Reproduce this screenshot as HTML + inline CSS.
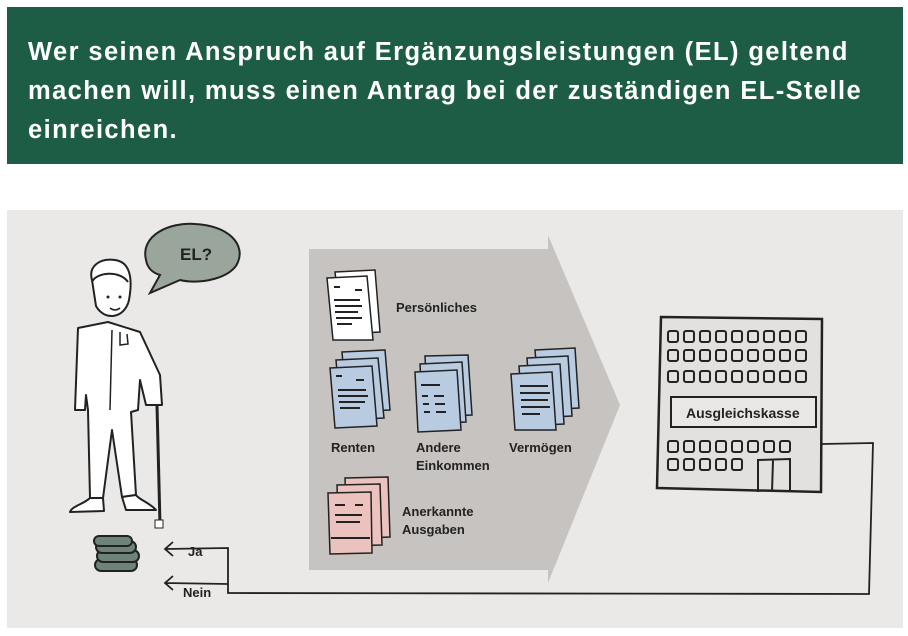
<!DOCTYPE html>
<html><head><meta charset="utf-8"><style>
body{margin:0;width:908px;height:636px;background:#fff;overflow:hidden;font-family:"Liberation Sans",sans-serif}
.h{position:absolute;left:7px;top:7px;width:896px;height:157px;background:#1d5d45;color:#fff;font-weight:bold;font-size:25.5px;letter-spacing:1.4px;line-height:39px;box-sizing:border-box;padding:26px 0 0 21px;white-space:nowrap}
svg{position:absolute;left:0;top:0}
</style></head><body>
<div class="h">Wer seinen Anspruch auf Ergänzungsleistungen (EL) geltend<br>machen will, muss einen Antrag bei der zuständigen EL-Stelle<br>einreichen.</div>
<svg width="908" height="636" font-family="Liberation Sans" font-weight="bold" font-size="13">
<rect x="7" y="210" width="896" height="418" fill="#eae9e7"/>
<polygon points="309,249 548,249 548,235 620,405 548,583 548,570 309,570" fill="#c7c3c0"/>
<path d="M146,260 C140,235 170,222 195,224 C230,226 245,245 238,262 C232,278 200,285 180,280 L150,293 L160,275 C150,272 147,266 146,260Z" fill="#9aa69c" stroke="#222" stroke-width="2"/>
<text x="180" y="260" font-size="17" fill="#222">EL?</text>
<g fill="#fff" stroke="#222" stroke-width="2" stroke-linejoin="round">
<path d="M92,280 C88,266 100,258 115,260 C130,262 133,278 129,300 C125,318 105,322 96,306Z"/>
<path d="M78,328 L108,322 L140,332 L160,375 L162,405 L146,405 L140,380 L138,410 L131,412 L136,495 L122,497 L112,430 L103,498 L90,498 L88,410 L86,395 L85,410 L75,410 Z"/>
<path d="M90,498 C84,504 72,506 70,512 L104,511 L103,498Z"/>
<path d="M122,497 L126,510 L156,510 C150,503 138,499 136,495Z"/>
</g>
<path d="M92,282 C96,272 120,270 128,282" fill="none" stroke="#222" stroke-width="2"/>
<path d="M112,330 L110,410 M120,332 L120,345 L128,344 L127,334" fill="none" stroke="#222" stroke-width="1.5"/>
<circle cx="108" cy="297" r="1.5" fill="#222"/><circle cx="120" cy="297" r="1.5" fill="#222"/>
<path d="M110,308 Q115,312 120,308" fill="none" stroke="#222" stroke-width="1.5"/>
<line x1="157" y1="405" x2="160" y2="525" stroke="#222" stroke-width="3"/>
<rect x="155" y="520" width="8" height="8" fill="#fff" stroke="#222"/>
<g fill="#6f8478" stroke="#222" stroke-width="2">
<rect x="95" y="559" width="42" height="12" rx="6"/><rect x="97" y="550" width="42" height="12" rx="6"/><rect x="96" y="541" width="40" height="12" rx="6"/><rect x="94" y="536" width="38" height="10" rx="5"/>
</g>
<path d="M228,570 L228,548 L165,549 M173,542 L165,549 L173,556 M228,584 L165,583 M173,576 L165,583 L173,590" fill="none" stroke="#222" stroke-width="1.8"/>
<path d="M822,444 L873,443 L869,594 L228,593 L228,570" fill="none" stroke="#222" stroke-width="1.8"/>
<text x="188" y="556" fill="#222">Ja</text>
<text x="183" y="597" fill="#222">Nein</text>
<g stroke="#222" stroke-width="1.5">
<path d="M335,272 L375,270 L380,332 L342,334Z" fill="#fff"/><path d="M327,278 L367,276 L373,340 L333,340Z" fill="#fff"/>
<g fill="#b9cbe0">
<path d="M342,352 L385,350 L390,410 L347,412Z"/><path d="M336,360 L378,358 L384,418 L341,420Z"/><path d="M330,368 L372,366 L377,426 L335,428Z"/>
<path d="M425,356 L468,355 L472,415 L428,417Z"/><path d="M420,364 L462,362 L466,422 L423,424Z"/><path d="M415,372 L457,370 L461,430 L418,432Z"/>
<path d="M535,350 L575,348 L579,408 L540,410Z"/><path d="M527,358 L568,356 L572,416 L531,418Z"/><path d="M519,366 L560,364 L564,424 L523,426Z"/><path d="M511,374 L552,372 L556,430 L515,430Z"/>
</g>
<g fill="#ebc2bd">
<path d="M345,478 L388,477 L390,537 L347,539Z"/><path d="M337,485 L380,484 L382,545 L339,546Z"/><path d="M328,493 L371,492 L372,553 L330,554Z"/>
</g>
</g>
<g stroke="#222" stroke-width="2">
<path d="M334,300 H360 M335,306 H362 M335,312 H358 M336,318 H362 M337,324 H352 M334,287 H340 M355,290 H362"/>
<path d="M338,390 H366 M338,396 H368 M339,402 H365 M340,408 H360 M336,376 H342 M356,380 H364"/>
<path d="M421,385 H440 M422,396 H428 M434,396 H444 M423,404 H429 M435,404 H445 M424,412 H430 M436,412 H446"/>
<path d="M520,386 H548 M520,393 H550 M521,400 H548 M521,407 H550 M522,414 H540"/>
<path d="M335,505 H345 M355,505 H363 M335,515 H362 M336,522 H360 M331,538 H370"/>
</g>
<g fill="#222">
<text x="396" y="312">Persönliches</text>
<text x="331" y="452">Renten</text>
<text x="416" y="452">Andere</text><text x="416" y="470">Einkommen</text>
<text x="509" y="452">Vermögen</text>
<text x="402" y="516">Anerkannte</text><text x="402" y="534">Ausgaben</text>
</g>
<path d="M661,317 L822,319 L821,492 L657,488Z" fill="#e2e1df" stroke="#222" stroke-width="2.5"/>
<g fill="none" stroke="#222" stroke-width="2">
<g id="r"><rect x="668" y="331" width="10" height="11" rx="2"/><rect x="684" y="331" width="10" height="11" rx="2"/><rect x="700" y="331" width="10" height="11" rx="2"/><rect x="716" y="331" width="10" height="11" rx="2"/><rect x="732" y="331" width="10" height="11" rx="2"/><rect x="748" y="331" width="10" height="11" rx="2"/><rect x="764" y="331" width="10" height="11" rx="2"/><rect x="780" y="331" width="10" height="11" rx="2"/><rect x="796" y="331" width="10" height="11" rx="2"/></g>
<use href="#r" y="19"/><use href="#r" y="40"/>
<g><rect x="668" y="441" width="10" height="11" rx="2"/><rect x="684" y="441" width="10" height="11" rx="2"/><rect x="700" y="441" width="10" height="11" rx="2"/><rect x="716" y="441" width="10" height="11" rx="2"/><rect x="732" y="441" width="10" height="11" rx="2"/><rect x="748" y="441" width="10" height="11" rx="2"/><rect x="764" y="441" width="10" height="11" rx="2"/><rect x="780" y="441" width="10" height="11" rx="2"/></g>
<g><rect x="668" y="459" width="10" height="11" rx="2"/><rect x="684" y="459" width="10" height="11" rx="2"/><rect x="700" y="459" width="10" height="11" rx="2"/><rect x="716" y="459" width="10" height="11" rx="2"/><rect x="732" y="459" width="10" height="11" rx="2"/></g>
<rect x="671" y="397" width="145" height="30" fill="#e8e7e5"/>
<path d="M758,492 L758,460 L790,459 L790,492 M773,460 L772,492"/>
</g>
<text x="686" y="418" fill="#222" font-size="14">Ausgleichskasse</text>
</svg>
</body></html>
